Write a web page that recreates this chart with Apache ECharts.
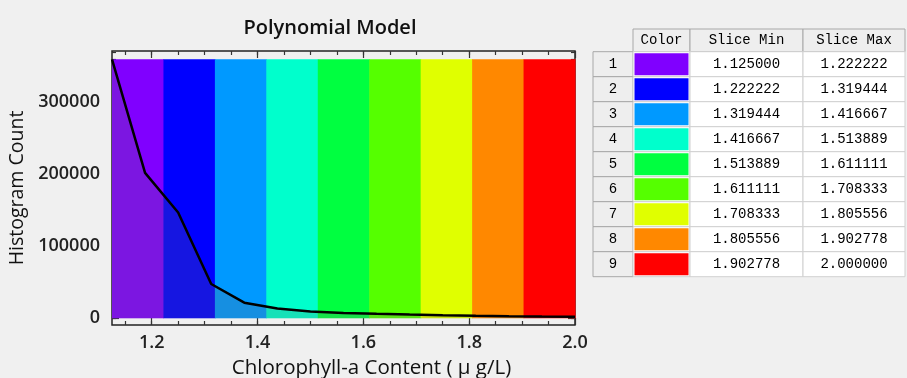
<!DOCTYPE html>
<html><head><meta charset="utf-8">
<script src="https://cdn.jsdelivr.net/npm/echarts@6/dist/echarts.min.js"></script>
<style>html,body{margin:0;padding:0;background:#f0f0f0}#c{width:907px;height:378px}</style>
</head><body><div id="c"></div>
<script>
// ---- data ----
const binX = [1.125, 1.1875, 1.25, 1.3125, 1.375, 1.4375, 1.5, 1.5625, 1.625, 1.6875, 1.75, 1.8125, 1.875, 1.9375, 2.0];
const counts = [359700, 202000, 147000, 47600, 21700, 13500, 9500, 7500, 6200, 5200, 4300, 3600, 3000, 2600, 2300];
const sliceMin = [1.125000, 1.222222, 1.319444, 1.416667, 1.513889, 1.611111, 1.708333, 1.805556, 1.902778];
const sliceMax = [1.222222, 1.319444, 1.416667, 1.513889, 1.611111, 1.708333, 1.805556, 1.902778, 2.000000];
const sliceColors = ['#8000ff', '#0000ff', '#0099ff', '#00ffcc', '#00ff40', '#55ff00', '#e0ff00', '#ff8800', '#ff0000'];
const rowLabels = ['1', '2', '3', '4', '5', '6', '7', '8', '9'];
const tableHeaders = ['Color', 'Slice Min', 'Slice Max'];
const xTickLabels = [1.2, 1.4, 1.6, 1.8, 2.0];
const yTickLabels = [0, 100000, 200000, 300000];

// ---- layout / style ----
const FONT = '"Open Sans", "Liberation Sans", sans-serif';
const MONO = '"Liberation Mono", "DejaVu Sans Mono", monospace';
const colEdges = [0, 40, 97, 210, 312];
const headerH = 22.7, rowH = 25;
const tableH = headerH + rowH * rowLabels.length;
const X_MIN = 1.125, X_MAX = 2.0, Y_MIN = -9300, Y_MAX = 371250;
const plotRect = { left: 112, top: 51, width: 463, height: 274 };

const xMinor = []; for (let k = 23; k <= 39; k++) xMinor.push(+(k * 0.05).toFixed(2));
const yMinor = []; for (let k = 0; k <= 37; k++) yMinor.push(k * 10000);

const bandTop = Math.max.apply(null, counts);
const bandData = sliceMin.map((m, i) => [m, sliceMax[i], bandTop, i]);
const lineData = binX.map((x, i) => [x, counts[i]]);

const cells = [];
for (let c = 1; c <= 3; c++) cells.push([c, 0]);
for (let r = 1; r <= rowLabels.length; r++) for (let c = 0; c <= 3; c++) cells.push([c, r]);

function xAx(gi, pos, major) {
  return {
    gridIndex: gi, type: 'value', min: X_MIN, max: X_MAX, position: pos,
    axisLine: { show: false, onZero: false }, splitLine: { show: false }, splitArea: { show: false },
    axisTick: { show: true, inside: true, length: major ? 7 : 4, customValues: major ? xTickLabels : xMinor,
      lineStyle: { color: '#333', width: 1.2 } },
    axisLabel: (pos === 'bottom' && major) ? {
      customValues: xTickLabels, formatter: v => (+v).toFixed(1), fontSize: 18, color: '#222',
      margin: 9, fontFamily: FONT, fontWeight: 600 } : { show: false }
  };
}
function yAx(gi, pos, major) {
  return {
    gridIndex: gi, type: 'value', min: Y_MIN, max: Y_MAX, position: pos,
    axisLine: { show: false, onZero: false }, splitLine: { show: false }, splitArea: { show: false },
    axisTick: { show: true, inside: true, length: major ? 7 : 4, customValues: major ? yTickLabels : yMinor,
      lineStyle: { color: '#333', width: 1.2 } },
    axisLabel: (pos === 'left' && major) ? {
      customValues: yTickLabels, formatter: v => String(Math.round(v)), fontSize: 18, color: '#222', margin: 12,
      fontFamily: FONT, fontWeight: 600 } : { show: false }
  };
}

// grid 0: data + major ticks (bottom/left) ; grid 1: table ; grid 2: minor ticks bottom/left ; grid 3: top/right majors ; grid 4: top/right minors
const xAxes = [
  xAx(0, 'bottom', true),
  { gridIndex: 1, type: 'value', min: colEdges[0], max: colEdges[colEdges.length - 1], show: false },
  xAx(2, 'bottom', false), xAx(3, 'top', true), xAx(4, 'top', false)
];
const yAxes = [
  yAx(0, 'left', true),
  { gridIndex: 1, type: 'value', min: 0, max: tableH, inverse: true, show: false },
  yAx(2, 'left', false), yAx(3, 'right', true), yAx(4, 'right', false)
];
xAxes[0].name = 'Chlorophyll-a Content ( μ g/L)';
xAxes[0].nameLocation = 'middle';
xAxes[0].nameGap = 33;
xAxes[0].nameTextStyle = { fontSize: 20.5, color: '#111', fontFamily: FONT, fontWeight: 500, padding: [0, 0, 0, 56] };
yAxes[0].name = 'Histogram Count';
yAxes[0].nameLocation = 'middle';
yAxes[0].nameGap = 84;
yAxes[0].nameTextStyle = { fontSize: 19.5, color: '#111', fontFamily: FONT, fontWeight: 500 };

const plainGrid = () => Object.assign({ show: false, containLabel: false, outerBoundsMode: 'none' }, plotRect);

const chart = echarts.init(document.getElementById('c'), null, { renderer: 'canvas' });
chart.setOption({
  backgroundColor: '#f0f0f0',
  animation: false,
  title: { text: 'Polynomial Model', left: 330, top: 18, textAlign: 'center', padding: 0,
    textStyle: { fontSize: 20, fontWeight: 600, color: '#111', fontFamily: FONT } },
  grid: [
    Object.assign({ show: true, borderColor: '#222', borderWidth: 1.5, backgroundColor: '#f0f0f0',
      containLabel: false, outerBoundsMode: 'none' }, plotRect),
    { left: 593, top: 29, width: 312, height: tableH, containLabel: false, outerBoundsMode: 'none' },
    plainGrid(), plainGrid(), plainGrid()
  ],
  xAxis: xAxes,
  yAxis: yAxes,
  series: [
    {
      type: 'custom', xAxisIndex: 0, yAxisIndex: 0, data: bandData, z: 1,
      encode: { x: [0, 1], y: 2 },
      renderItem: function (params, api) {
        const p0 = api.coord([api.value(0), api.value(2)]);
        const p1 = api.coord([api.value(1), 0]);
        return { type: 'rect', shape: { x: p0[0], y: p0[1], width: p1[0] - p0[0] + 0.6, height: p1[1] - p0[1] },
          style: { fill: sliceColors[api.value(3)] } };
      }
    },
    {
      type: 'line', xAxisIndex: 0, yAxisIndex: 0, data: lineData, showSymbol: false, z: 3,
      lineStyle: { color: '#000', width: 2.5 },
      areaStyle: { color: 'rgba(110,110,110,0.29)', origin: 'auto' }
    },
    {
      type: 'custom', xAxisIndex: 1, yAxisIndex: 1, data: cells, z: 5,
      encode: { x: 0, y: 1 },
      renderItem: function (params, api) {
        const c = api.value(0), r = api.value(1);
        const y0 = r === 0 ? 0 : headerH + (r - 1) * rowH;
        const y1 = r === 0 ? headerH : headerH + r * rowH;
        const p0 = api.coord([colEdges[c], y0]);
        const p1 = api.coord([colEdges[c + 1], y1]);
        const w = p1[0] - p0[0], h = p1[1] - p0[1];
        const gray = (r === 0 || c === 0);
        const children = [{ type: 'rect', shape: { x: p0[0], y: p0[1], width: w, height: h },
          style: { fill: gray ? '#eeeeee' : '#ffffff', stroke: gray ? '#a8a8a8' : '#d0d0d0', lineWidth: 1 } }];
        let txt = null;
        if (r === 0) txt = tableHeaders[c - 1];
        else if (c === 0) txt = rowLabels[r - 1];
        else if (c === 1) children.push({ type: 'rect', shape: { x: p0[0] + 1.5, y: p0[1] + 1.5, width: w - 3, height: h - 3 },
          style: { fill: sliceColors[r - 1] } });
        else if (c === 2) txt = sliceMin[r - 1].toFixed(6);
        else txt = sliceMax[r - 1].toFixed(6);
        if (txt !== null) children.push({ type: 'text', x: p0[0] + w / 2, y: p0[1] + h / 2,
          style: { text: txt, fill: '#000', font: '14px ' + MONO, align: 'center', verticalAlign: 'middle' } });
        return { type: 'group', children: children };
      }
    }
  ]
});
</script></body></html>
